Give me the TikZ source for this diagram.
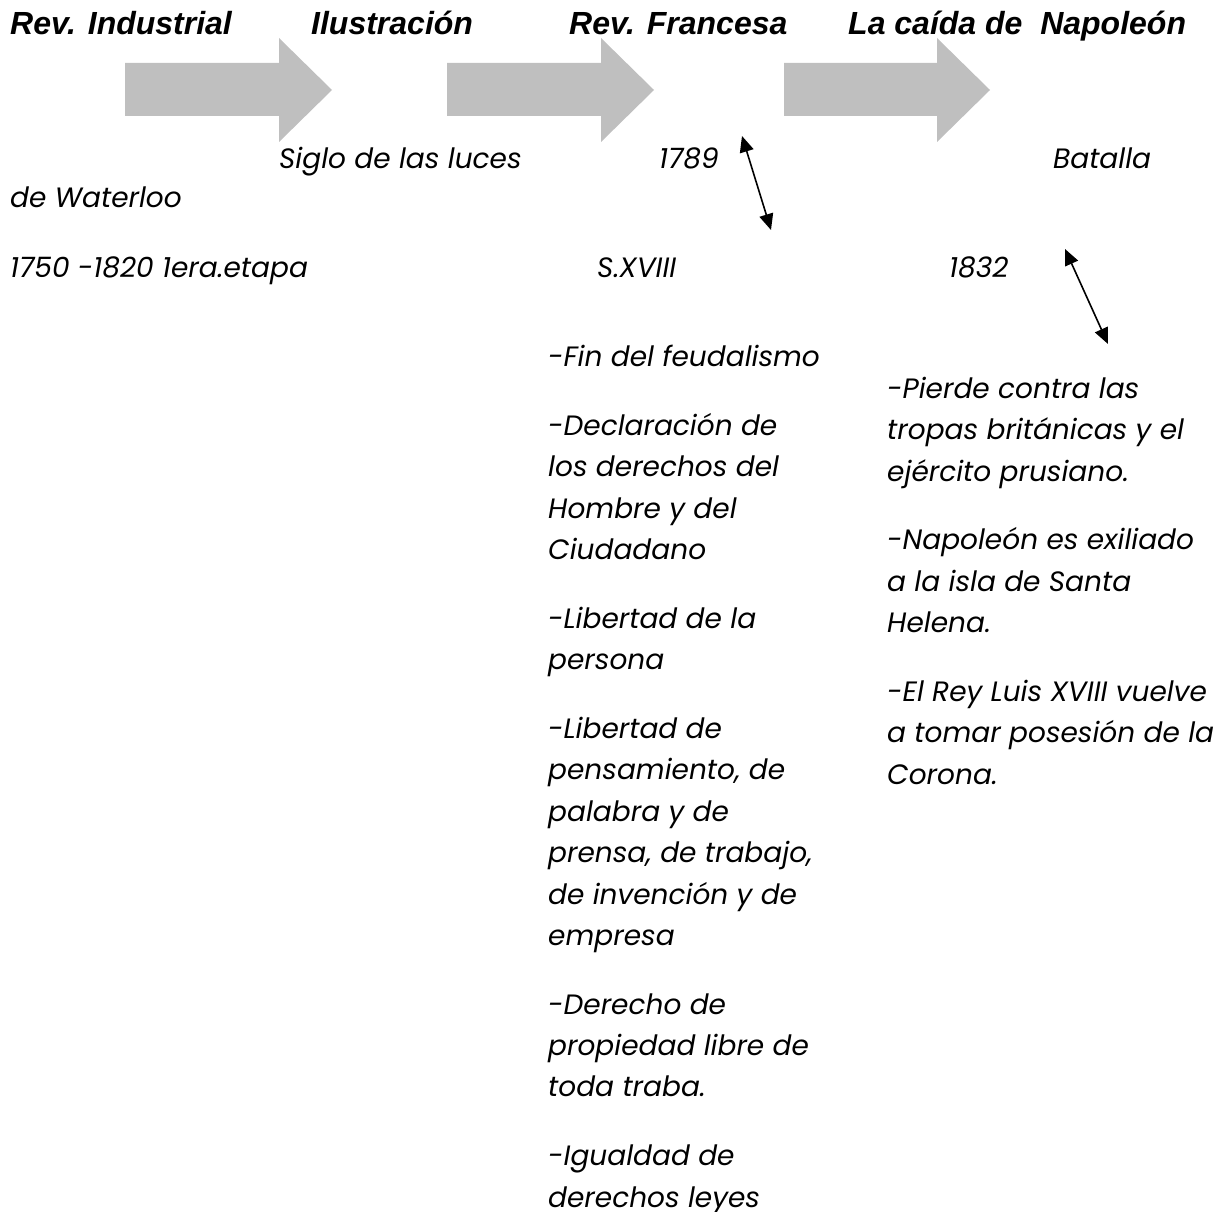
\documentclass[tikz,border=0pt]{standalone}
\usepackage{fontspec}
\setmainfont{Poppins}
\newfontfamily\titlefont{Liberation Sans}
\usetikzlibrary{arrows.meta}
\definecolor{arrowgray}{RGB}{191,191,191}
\begin{document}
\begin{tikzpicture}[x=1pt,y=-1pt,
  title/.style={anchor=base west, inner sep=0pt, font=\titlefont\bfseries\itshape\fontsize{32}{38}\selectfont},
  body/.style={anchor=base west, inner sep=0pt, align=left, font=\itshape\fontsize{28}{41.4}\selectfont},
  blockarrow/.style={fill=arrowgray, draw=none},
  link/.style={{Triangle[length=16pt,width=14pt]}-{Triangle[length=16pt,width=14pt]}, line width=1.6pt}]
\useasboundingbox (0,0) rectangle (1223,1212);
% block arrows
\fill[blockarrow] (125,63) -- (279,63) -- (279,38) -- (332,90) -- (279,142) -- (279,116) -- (125,116) -- cycle;
\fill[blockarrow] (447,63) -- (601,63) -- (601,38) -- (654,90) -- (601,142) -- (601,116) -- (447,116) -- cycle;
\fill[blockarrow] (784,63) -- (937,63) -- (937,38) -- (990,90) -- (937,142) -- (937,116) -- (784,116) -- cycle;
% titles
\node[title] (t1) at (10,35) {Rev. Industrial};
\node[title] (t2) at (311,35) {Ilustración};
\node[title] (t3) at (569,35) {Rev. Francesa};
\node[title] (t4) at (848,35) {La caída de\ \ Napoleón};
% second row
\node[body] (siglo) at (279,168) {Siglo de las luces};
\node[body] (y1789) at (659,168) {1789};
\node[body] (batalla) at (1053,168) {Batalla};
\node[body] (waterloo) at (10,207) {de Waterloo};
% third row
\node[body] (etapa) at (10,277) {1750 -1820 1era.etapa};
\node[body] (sxviii) at (597,277) {S.XVIII};
\node[body] (y1832) at (949,277) {1832};
% lists (base anchor = baseline of the last line)
\node[body] (list1) at (548,1207) {-Fin del feudalismo\\[27.3pt]
-Declaración de\\los derechos del\\Hombre y del\\Ciudadano\\[27.3pt]
-Libertad de la\\persona\\[27.3pt]
-Libertad de\\pensamiento, de\\palabra y de\\prensa, de trabajo,\\de invención y de\\empresa\\[27.3pt]
-Derecho de\\propiedad libre de\\toda traba.\\[27.3pt]
-Igualdad de\\derechos leyes};
\node[body] (list2) at (887,784) {-Pierde contra las\\tropas británicas y el\\ejército prusiano.\\[27.3pt]
-Napoleón es exiliado\\a la isla de Santa\\Helena.\\[27.3pt]
-El Rey Luis XVIII vuelve\\a tomar posesión de la\\Corona.};
% double arrows
\coordinate (a1) at (742,136);
\coordinate (a2) at (771,230);
\coordinate (b1) at (1065,249);
\coordinate (b2) at (1108,344);
\draw[link] (a1) -- (a2);
\draw[link] (b1) -- (b2);
\end{tikzpicture}
\end{document}
